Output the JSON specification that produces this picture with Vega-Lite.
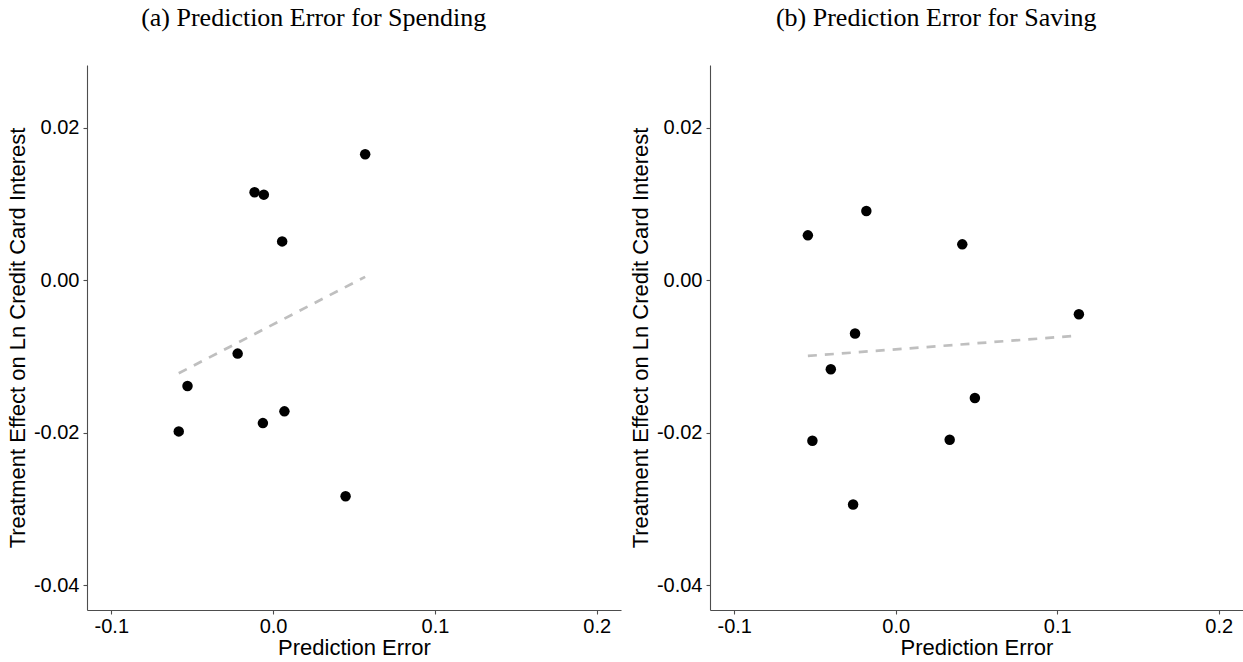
{
  "$schema": "https://vega.github.io/schema/vega-lite/v6.json",
  "padding": {"left": 6, "top": 5, "right": 0, "bottom": 0},
  "config": {
    "view": {"stroke": null},
    "font": "Liberation Sans",
    "axis": {
      "grid": false,
      "domainColor": "#4d4d4d",
      "domainWidth": 1.1,
      "tickColor": "#4d4d4d",
      "tickSize": 4,
      "tickWidth": 1.1,
      "labelFont": "Liberation Sans",
      "labelFontSize": 20,
      "labelColor": "#000000",
      "titleFont": "Liberation Sans",
      "titleFontSize": 22,
      "titleFontWeight": "normal",
      "titleColor": "#000000",
      "labelPadding": 4
    },
    "title": {"font": "Liberation Serif", "fontSize": 26, "fontWeight": "normal", "color": "#000000", "anchor": "middle", "frame": "bounds", "offset": 34},
    "concat": {"spacing": 8}
  },
  "datasets": {
    "spending": [
      {"error": 0.0569, "effect": 0.01654},
      {"error": -0.01145, "effect": 0.01155},
      {"error": -0.00573, "effect": 0.01124},
      {"error": 0.0056, "effect": 0.00511},
      {"error": -0.0219, "effect": -0.00961},
      {"error": -0.0529, "effect": -0.01386},
      {"error": -0.0583, "effect": -0.01982},
      {"error": 0.0070, "effect": -0.01719},
      {"error": -0.0063, "effect": -0.01873},
      {"error": 0.0448, "effect": -0.02832}
    ],
    "spending_fit": [
      {"error": -0.0583, "effect": -0.01219},
      {"error": 0.0569, "effect": 0.00046}
    ],
    "saving": [
      {"error": -0.0544, "effect": 0.0059},
      {"error": -0.0182, "effect": 0.00909},
      {"error": 0.0412, "effect": 0.00472},
      {"error": -0.0252, "effect": -0.00698},
      {"error": -0.0402, "effect": -0.01167},
      {"error": 0.0490, "effect": -0.01544},
      {"error": -0.0516, "effect": -0.02104},
      {"error": 0.0334, "effect": -0.02091},
      {"error": -0.0264, "effect": -0.02941},
      {"error": 0.1134, "effect": -0.00446}
    ],
    "saving_fit": [
      {"error": -0.0544, "effect": -0.00992},
      {"error": 0.1134, "effect": -0.00725}
    ]
  },
  "hconcat": [
    {
      "title": "(a) Prediction Error for Spending",
      "width": 534,
      "height": 545,
      "layer": [
        {
          "data": {"name": "spending_fit"},
          "mark": {"type": "line", "color": "#bfbfbf", "strokeWidth": 2.7, "strokeDash": [9, 8]},
          "encoding": {
            "x": {"field": "error", "type": "quantitative", "scale": {"domain": [-0.115, 0.215], "nice": false, "zero": false}, "axis": {"values": [-0.1, 0, 0.1, 0.2], "labelExpr": "replace(format(datum.value, '.1f'), '\u2212', '-')", "title": "Prediction Error", "labelPadding": 2, "titlePadding": 1}},
            "y": {"field": "effect", "type": "quantitative", "scale": {"domain": [-0.04325, 0.02825], "nice": false, "zero": false}, "axis": {"values": [-0.04, -0.02, 0, 0.02], "labelExpr": "replace(format(datum.value, '.2f'), '\u2212', '-')", "title": "Treatment Effect on Ln Credit Card Interest", "titlePadding": 4}}
          }
        },
        {
          "data": {"name": "spending"},
          "mark": {"type": "point", "filled": true, "color": "#000000", "size": 110, "opacity": 1},
          "encoding": {
            "x": {"field": "error", "type": "quantitative"},
            "y": {"field": "effect", "type": "quantitative"}
          }
        }
      ]
    },
    {
      "title": "(b) Prediction Error for Saving",
      "width": 533,
      "height": 545,
      "layer": [
        {
          "data": {"name": "saving_fit"},
          "mark": {"type": "line", "color": "#bfbfbf", "strokeWidth": 2.7, "strokeDash": [9, 8]},
          "encoding": {
            "x": {"field": "error", "type": "quantitative", "scale": {"domain": [-0.115, 0.215], "nice": false, "zero": false}, "axis": {"values": [-0.1, 0, 0.1, 0.2], "labelExpr": "replace(format(datum.value, '.1f'), '\u2212', '-')", "title": "Prediction Error", "labelPadding": 2, "titlePadding": 1}},
            "y": {"field": "effect", "type": "quantitative", "scale": {"domain": [-0.04325, 0.02825], "nice": false, "zero": false}, "axis": {"values": [-0.04, -0.02, 0, 0.02], "labelExpr": "replace(format(datum.value, '.2f'), '\u2212', '-')", "title": "Treatment Effect on Ln Credit Card Interest", "titlePadding": 4}}
          }
        },
        {
          "data": {"name": "saving"},
          "mark": {"type": "point", "filled": true, "color": "#000000", "size": 110, "opacity": 1},
          "encoding": {
            "x": {"field": "error", "type": "quantitative"},
            "y": {"field": "effect", "type": "quantitative"}
          }
        }
      ]
    }
  ]
}
